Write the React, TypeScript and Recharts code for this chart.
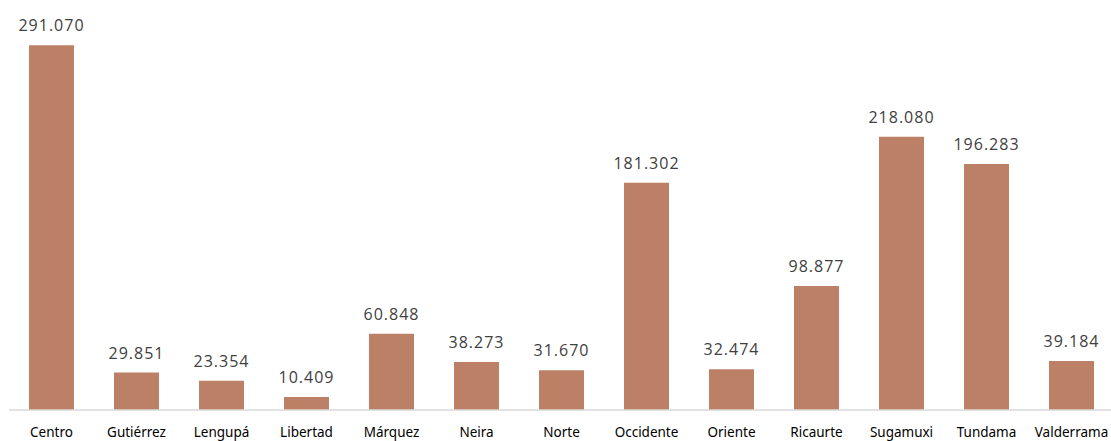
import React from "react";
import { BarChart, Bar, XAxis, YAxis, LabelList } from "recharts";

const categories = ["Centro", "Gutiérrez", "Lengupá", "Libertad", "Márquez", "Neira", "Norte", "Occidente", "Oriente", "Ricaurte", "Sugamuxi", "Tundama", "Valderrama"];
const values = [291.07, 29.851, 23.354, 10.409, 60.848, 38.273, 31.67, 181.302, 32.474, 98.877, 218.08, 196.283, 39.184];
const labels = ["291.070", "29.851", "23.354", "10.409", "60.848", "38.273", "31.670", "181.302", "32.474", "98.877", "218.080", "196.283", "39.184"];

const data = categories.map((c, i) => ({ name: c, value: values[i], label: labels[i] }));

export default function App() {
  return (
    <div style={{ position: "absolute", left: 0, top: 0, width: 1111, height: 441, overflow: "hidden", background: "#fff" }}>
      <BarChart width={1114} height={441} data={data} margin={{ top: 34, right: 0, left: 9, bottom: 0 }}>
        <XAxis
          dataKey="name"
          height={31}
          tickLine={false}
          tickSize={0}
          tickMargin={17}
          axisLine={{ stroke: "#d9d9d9", strokeWidth: 1.5 }}
          interval={0}
          tick={{ fill: "#000", fontSize: 13.5, fontFamily: "Noto Sans" }}
        />
        <YAxis hide domain={[0, 300]} />
        <Bar dataKey="value" fill="#bb8066" barSize={45} isAnimationActive={false}>
          <LabelList dataKey="label" position="top" offset={14} fill="#404040" fontSize={16} fontFamily="Open Sans" letterSpacing={1} />
        </Bar>
      </BarChart>
    </div>
  );
}
